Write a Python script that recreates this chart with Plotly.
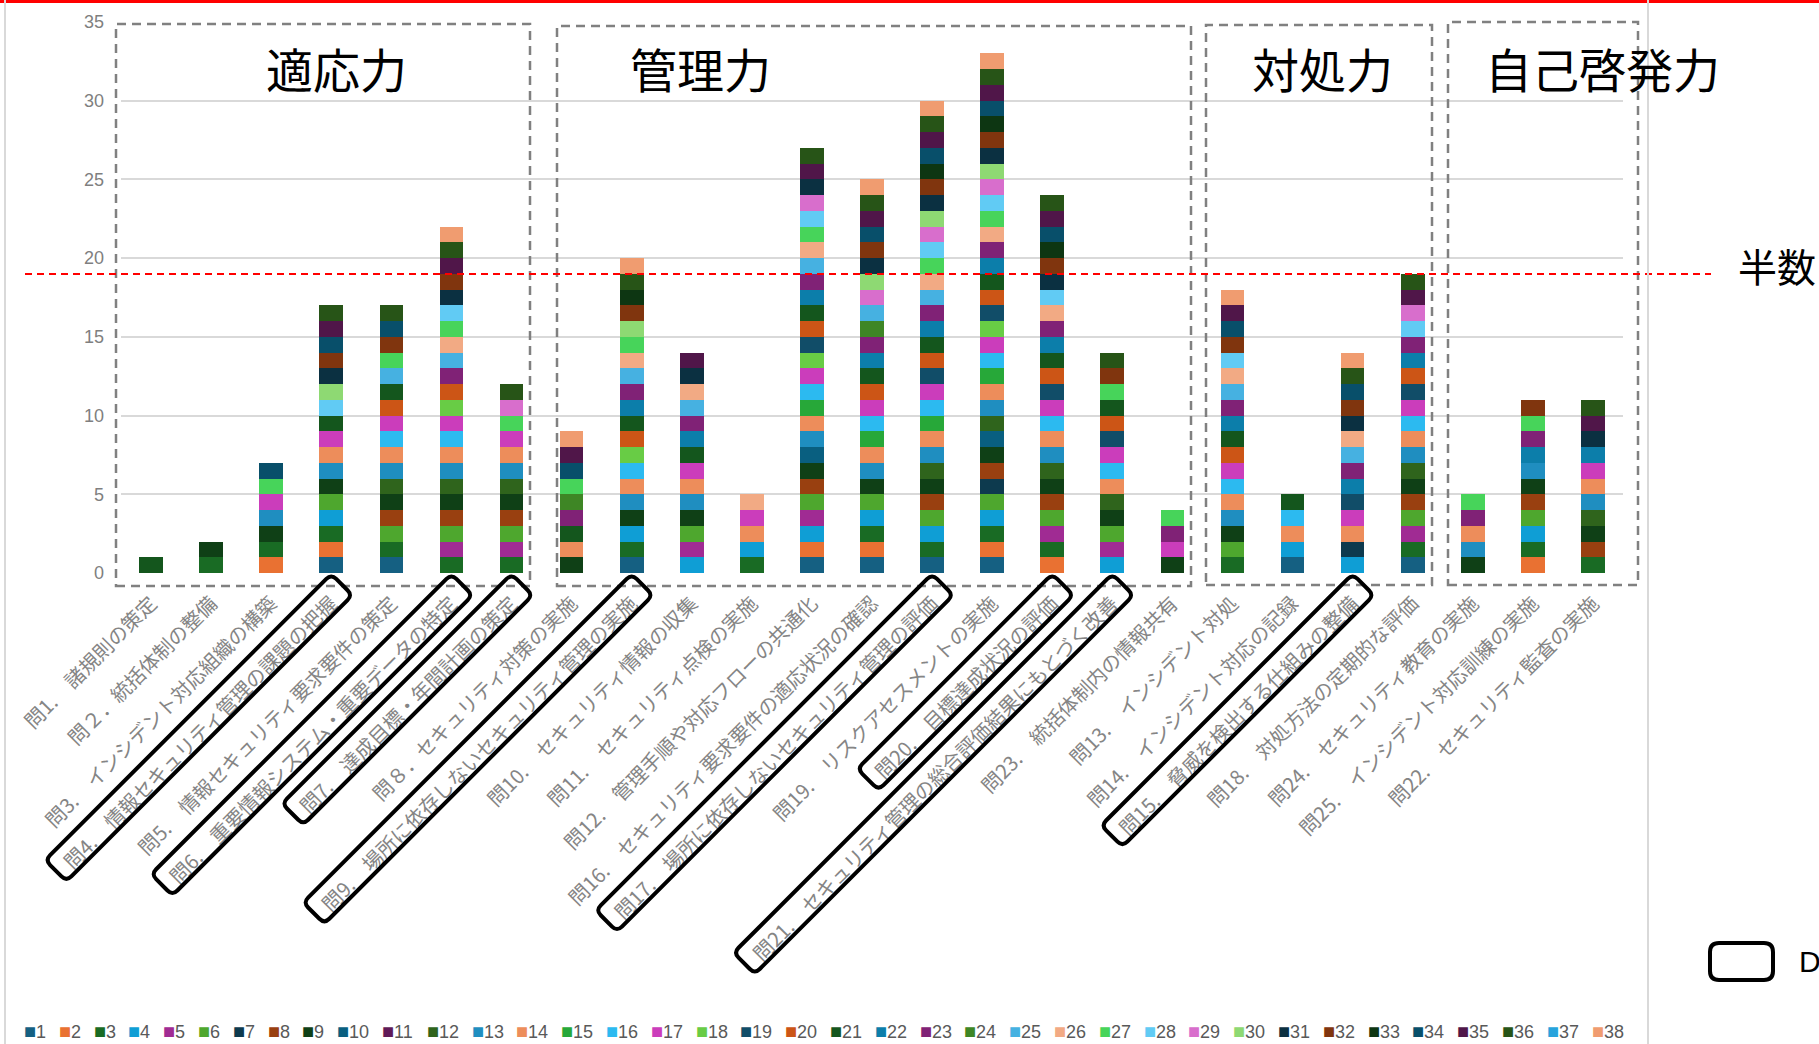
import math
import colorsys
import plotly.graph_objects as go

# ---------------- data ----------------
categories = [
    "問1.　諸規則の策定",
    "問２．統括体制の整備",
    "問3.　インシデント対応組織の構築",
    "問4.　情報セキュリティ管理の課題の把握",
    "問5.　情報セキュリティ要求要件の策定",
    "問6.　重要情報システム・重要データの特定",
    "問7.　達成目標・年間計画の策定",
    "問８．セキュリティ対策の実施",
    "問9.　場所に依存しないセキュリティ管理の実施",
    "問10.　セキュリティ情報の収集",
    "問11.　セキュリティ点検の実施",
    "問12.　管理手順や対応フローの共通化",
    "問16.　セキュリティ要求要件の適応状況の確認",
    "問17.　場所に依存しないセキュリティ管理の評価",
    "問19.　リスクアセスメントの実施",
    "問20.　目標達成状況の評価",
    "問21.　セキュリティ管理の総合評価結果にもとづく改善",
    "問23.　統括体制内の情報共有",
    "問13.　インシデント対処",
    "問14.　インシデント対応の記録",
    "問15.　脅威を検出する仕組みの整備",
    "問18.　対処方法の定期的な評価",
    "問24.　セキュリティ教育の実施",
    "問25.　インシデント対応訓練の実施",
    "問22.　セキュリティ監査の実施",
]

# respondents (series 1..38) that count in each question's stacked bar
respondents = [
    [21],
    [3, 9],
    [2, 3, 9, 13, 17, 27, 34],
    [1, 2, 3, 4, 6, 9, 13, 14, 17, 21, 28, 30, 31, 32, 34, 35, 36],
    [1, 3, 6, 8, 9, 12, 13, 14, 16, 17, 20, 21, 25, 27, 32, 34, 36],
    [3, 5, 6, 8, 9, 12, 13, 14, 16, 17, 18, 20, 23, 25, 26, 27, 28, 31, 32, 35, 36, 38],
    [3, 5, 6, 8, 9, 12, 13, 14, 17, 27, 29, 36],
    [9, 14, 21, 23, 24, 27, 34, 35, 38],
    [1, 3, 4, 9, 13, 14, 16, 18, 20, 21, 22, 23, 25, 26, 27, 30, 32, 33, 36, 38],
    [4, 5, 6, 9, 13, 14, 17, 21, 22, 23, 25, 26, 31, 35],
    [3, 4, 14, 17, 26],
    [1, 2, 4, 5, 6, 8, 9, 10, 13, 14, 15, 16, 17, 18, 19, 20, 21, 22, 23, 25, 26, 27, 28, 29, 31, 35, 36],
    [1, 2, 3, 4, 6, 9, 13, 14, 15, 16, 17, 20, 21, 22, 23, 24, 25, 29, 30, 31, 32, 34, 35, 36, 38],
    [1, 3, 4, 6, 8, 9, 12, 13, 14, 15, 16, 17, 19, 20, 21, 22, 23, 25, 26, 27, 28, 29, 30, 31, 32, 33, 34, 35, 36, 38],
    [1, 2, 3, 4, 6, 7, 8, 9, 10, 12, 13, 14, 15, 16, 17, 18, 19, 20, 21, 22, 23, 26, 27, 28, 29, 30, 31, 32, 33, 34, 35, 36, 38],
    [2, 3, 5, 6, 8, 9, 12, 13, 14, 16, 17, 19, 20, 21, 22, 23, 26, 28, 31, 32, 33, 34, 35, 36],
    [4, 5, 6, 9, 12, 14, 16, 17, 19, 20, 21, 27, 32, 36],
    [9, 17, 23, 27],
    [3, 6, 9, 13, 14, 16, 17, 20, 21, 22, 23, 25, 26, 28, 32, 34, 35, 38],
    [1, 4, 14, 16, 21],
    [4, 7, 14, 17, 19, 22, 23, 25, 26, 31, 32, 34, 36, 38],
    [1, 3, 5, 6, 8, 9, 12, 13, 14, 16, 17, 19, 20, 22, 23, 28, 29, 35, 36],
    [9, 13, 14, 23, 27],
    [2, 3, 4, 6, 8, 9, 13, 22, 23, 27, 32],
    [3, 8, 9, 12, 13, 14, 17, 22, 31, 35, 36],
]

n_respondents = 38
series_names = [str(k) for k in range(1, n_respondents + 1)]
group_names = ["適応力", "管理力", "対処力", "自己啓発力"]
highlighted = ["問4", "問6", "問7", "問9", "問17", "問20", "問21", "問15"]
half_value = n_respondents / 2
half_label = "半数"
note_label = "D"
y_ticks = [0, 5, 10, 15, 20, 25, 30, 35]

# ---------------- style ----------------
W, H = 1819, 1044
ML, MR, MT, MB = 121, 196, 22, 471
PW = W - ML - MR
PH = H - MT - MB
Y_MAX = 35


def fx(xp):
    return (xp - ML) / PW


def fy(yp):
    return (H - MB - yp) / PH


accents = ["#156082", "#E97132", "#196B24", "#0F9ED5", "#A02B93", "#4EA72E"]
lum_mods = [(1, 0), (0.6, 0), (0.8, 0.2), (0.8, 0), (0.6, 0.4), (0.5, 0), (0.7, 0.3)]


def lum(hexc, mod, off):
    r, g, b = (int(hexc[i:i + 2], 16) / 255 for i in (1, 3, 5))
    hh, l, s = colorsys.rgb_to_hls(r, g, b)
    l = min(1.0, l * mod + off)
    r, g, b = colorsys.hls_to_rgb(hh, l, s)
    return "#%02X%02X%02X" % tuple(round(v * 255) for v in (r, g, b))


series_colors = [lum(accents[k % 6], *lum_mods[k // 6]) for k in range(n_respondents)]

fig = go.Figure()
for k, name in enumerate(series_names, start=1):
    vals = [1 if k in grp else None for grp in respondents]
    fig.add_trace(go.Bar(
        x=categories, y=vals, name=name, showlegend=False,
        marker=dict(color=series_colors[k - 1], line=dict(width=0)),
    ))

shapes = []
annotations = []

# group dashed boxes + titles
group_box_px = [(116, 24, 530, 586), (557, 26, 1191, 586), (1206, 25, 1432, 585), (1448, 22, 1638, 585)]
group_title_px = [(336, 67), (700, 67), (1322, 67), (1602, 67)]
for (x0, y0, x1, y1), (tx, ty), name in zip(group_box_px, group_title_px, group_names):
    shapes.append(dict(type="rect", xref="paper", yref="paper",
                       x0=fx(x0), x1=fx(x1), y0=fy(y1), y1=fy(y0),
                       line=dict(color="#808080", width=2.5, dash="9px,6px")))
    annotations.append(dict(xref="paper", yref="paper", x=fx(tx), y=fy(ty), text=name,
                            showarrow=False, xanchor="center", yanchor="middle",
                            font=dict(family="Noto Sans CJK JP", size=47, color="#000000")))

# half line
shapes.append(dict(type="line", xref="paper", yref="paper", x0=fx(25), x1=fx(1711),
                   y0=half_value / Y_MAX, y1=half_value / Y_MAX,
                   line=dict(color="#FF0000", width=2, dash="7px,5px")))
annotations.append(dict(xref="paper", yref="paper", x=fx(1777), y=fy(265), text=half_label,
                        showarrow=False, xanchor="center", yanchor="middle",
                        font=dict(family="Noto Sans CJK JP", size=39, color="#000000")))

# frame lines
shapes.append(dict(type="line", xref="paper", yref="paper", x0=fx(0), x1=fx(W), y0=fy(1.5), y1=fy(1.5),
                   line=dict(color="#FF0000", width=3)))
for xv in (5, 1648):
    shapes.append(dict(type="line", xref="paper", yref="paper", x0=fx(xv), x1=fx(xv), y0=fy(0), y1=fy(H),
                       line=dict(color="#D9D9D9", width=2)))


def rounded_path(pts, r):
    def unit(a, b):
        dx, dy = b[0] - a[0], b[1] - a[1]
        L = math.hypot(dx, dy)
        return dx / L, dy / L
    path = ""
    n = len(pts)
    for k in range(n):
        p = pts[k]
        u1 = unit(p, pts[k - 1])
        u2 = unit(p, pts[(k + 1) % n])
        a = (p[0] + u1[0] * r, p[1] + u1[1] * r)
        b = (p[0] + u2[0] * r, p[1] + u2[1] * r)
        path += ("M" if k == 0 else "L") + f"{fx(a[0]):.5f},{fy(a[1]):.5f} "
        path += f"Q{fx(p[0]):.5f},{fy(p[1]):.5f} {fx(b[0]):.5f},{fy(b[1]):.5f} "
    return path + "Z"


LABEL_FONT = 20


def text_len(s):
    w = 0
    for c in s:
        if c.isdigit() and ord(c) < 128:
            w += 0.55
        elif ord(c) < 128:
            w += 0.28
        else:
            w += 1.0
    return w * LABEL_FONT


# highlight boxes around selected tick labels
s2 = 1 / math.sqrt(2)
for i, cat in enumerate(categories):
    key = cat.split(".")[0].split("．")[0]
    if key not in highlighted:
        continue
    tx = ML + PW * (i + 0.5) / len(categories)
    p0 = (tx + 10.6, 584.6)
    L = text_len(cat) + 28
    p1 = (p0[0] - L * s2, p0[1] + L * s2)
    h = 15
    pts = [(p0[0] - h * s2, p0[1] - h * s2), (p0[0] + h * s2, p0[1] + h * s2),
           (p1[0] + h * s2, p1[1] + h * s2), (p1[0] - h * s2, p1[1] - h * s2)]
    shapes.append(dict(type="path", xref="paper", yref="paper", path=rounded_path(pts, 7),
                       line=dict(color="#000000", width=4)))

# note legend box
shapes.append(dict(type="path", xref="paper", yref="paper",
                   path=rounded_path([(1710, 943), (1773, 943), (1773, 980), (1710, 980)], 9),
                   line=dict(color="#000000", width=4)))
annotations.append(dict(xref="paper", yref="paper", x=fx(1797), y=fy(961), text=note_label,
                        showarrow=False, xanchor="left", yanchor="middle",
                        font=dict(family="Liberation Sans", size=30, color="#000000")))

# series key row along the bottom (colour square + respondent number)
LEG_Y = 1031
leg_x = 25.0
for name, col in zip(series_names, series_colors):
    annotations.append(dict(xref="paper", yref="paper", x=fx(leg_x - 2), y=fy(LEG_Y),
                            text=f"<span style='color:{col};font-size:20px'>■</span>{name}",
                            showarrow=False, xanchor="left", yanchor="middle", borderpad=0,
                            font=dict(family="Liberation Sans", size=18, color="#595959")))
    leg_x += 34.8 if len(name) == 1 else 44.8

fig.update_layout(
    template="none",
    width=W, height=H,
    margin=dict(l=ML, r=MR, t=MT, b=MB, autoexpand=False),
    paper_bgcolor="white", plot_bgcolor="white",
    barmode="stack", bargap=0.606,
    showlegend=False,
    xaxis=dict(type="category", categoryorder="array", categoryarray=categories,
               showgrid=False, showline=False, zeroline=False, ticks="", tickangle=-45,
               automargin=False, ticklabelstandoff=14,
               tickfont=dict(family="Noto Sans CJK JP", size=LABEL_FONT, color="#858585")),
    yaxis=dict(range=[0, Y_MAX], tickvals=y_ticks, showgrid=True, gridcolor="#D9D9D9", gridwidth=1.5,
               zeroline=False, showline=False, ticks="", automargin=False, ticklabelstandoff=16,
               tickfont=dict(family="Liberation Sans", size=18, color="#7F7F7F")),
    shapes=shapes,
    annotations=annotations,
    hovermode=False,
)

fig.write_html("out.html")
